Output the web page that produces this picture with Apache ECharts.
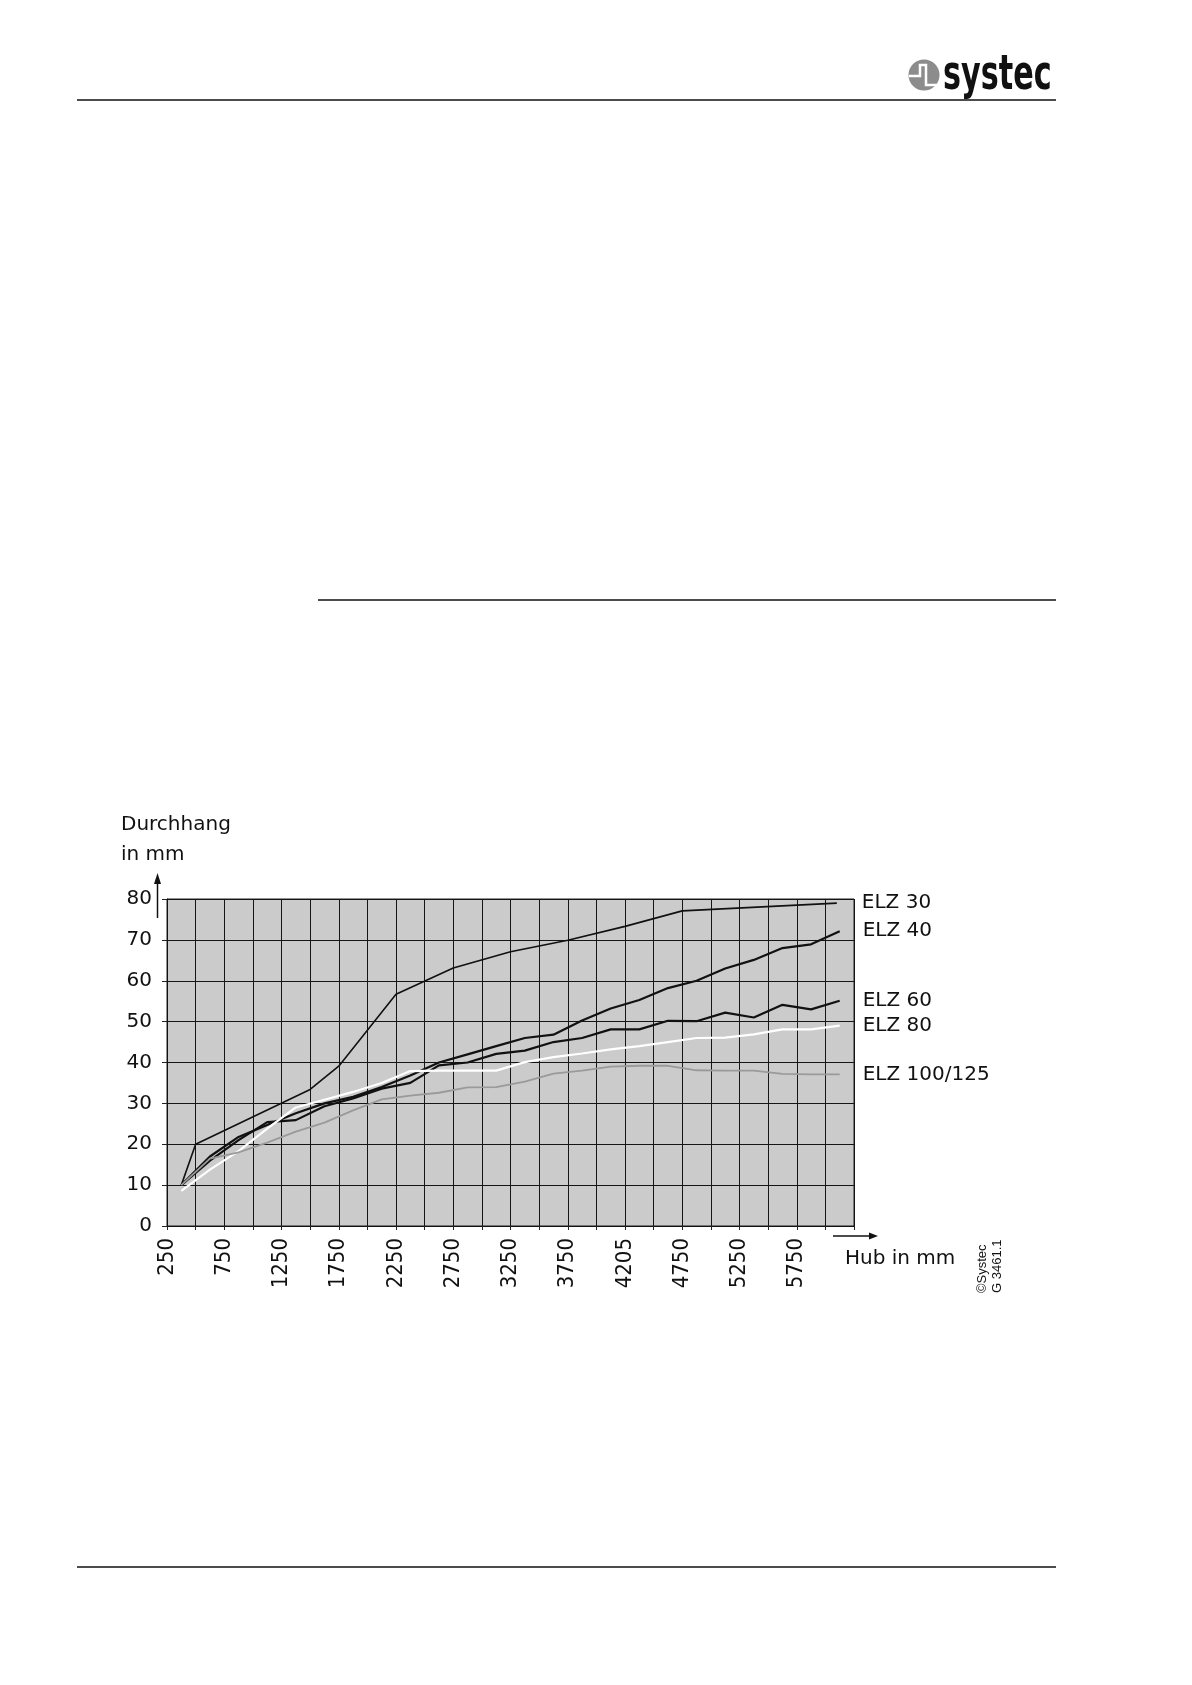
<!DOCTYPE html>
<html>
<head>
<meta charset="utf-8">
<title>Durchhang ELZ</title>
<script src="https://cdn.jsdelivr.net/npm/echarts@6/dist/echarts.min.js"></script>
<style>
  html, body { margin: 0; padding: 0; background: #fff; }
  #chart { width: 1192px; height: 1685px; }
</style>
</head>
<body>
<div id="chart"></div>
<script>
// Hub positions (mm) of the measured points for ELZ 40 ... ELZ 100/125
const hubValues = [375, 625, 875, 1125, 1375, 1625, 1875, 2125, 2375, 2625, 2875, 3125,
                   3375, 3625, 3875, 4125, 4375, 4625, 4875, 5125, 5375, 5625, 5875, 6125];

// ELZ 30 has its own set of hub positions
const elz30Hub = [375, 500, 1500, 1750, 2250, 2750, 3250, 3750, 4250, 4750, 6100];
const elz30 = [10, 20, 33.4, 39.1, 56.7, 63.1, 67.1, 69.9, 73.3, 77.1, 79.0];

// Durchhang (mm)
const elz40 = [10, 17.0, 21.8, 24.7, 27.6, 30.0, 31.6, 34.0, 36.8, 40.0, 42.0, 44.0,
               46.0, 46.8, 50.3, 53.2, 55.3, 58.2, 60.0, 63.0, 65.1, 68.0, 68.9, 72.1];
const elz60 = [10, 16.0, 21.0, 25.4, 25.9, 29.3, 31.2, 33.6, 35.0, 39.3, 40.0, 42.1,
               42.9, 45.0, 46.0, 48.1, 48.1, 50.2, 50.1, 52.2, 51.0, 54.1, 53.0, 55.1];
const elz80 = [8.6, 13.8, 18.3, 23.8, 29.0, 30.9, 32.8, 35.0, 37.9, 38.0, 38.0, 38.0,
               40.1, 41.3, 42.2, 43.2, 44.0, 45.0, 46.0, 46.1, 46.9, 48.1, 48.1, 49.0];
const elz100 = [10, 16.5, 18.0, 20.4, 23.1, 25.3, 28.3, 31.0, 31.9, 32.6, 33.9, 34.0,
                35.3, 37.3, 38.0, 39.0, 39.2, 39.2, 38.1, 38.0, 38.0, 37.2, 37.1, 37.1];

// Labelled ticks of the Hub axis (as printed)
const xTickValues = [250, 750, 1250, 1750, 2250, 2750, 3250, 3750, 4250, 4750, 5250, 5750];
const xTickLabels = ['250', '750', '1250', '1750', '2250', '2750', '3250', '3750', '4205', '4750', '5250', '5750'];

const seriesNames = ['ELZ 30', 'ELZ 40', 'ELZ 60', 'ELZ 80', 'ELZ 100/125'];

const FONT = "'DejaVu Sans', 'Noto Sans', sans-serif";
const FONT_COND = "'DejaVu Sans Condensed', 'DejaVu Sans', sans-serif";

function pairs(xs, ys) {
  return ys.map((v, i) => [xs[i], v]);
}

function lineSeries(name, xs, ys, color, width, labelDist) {
  return {
    name: name,
    type: 'line',
    data: pairs(xs, ys),
    showSymbol: false,
    symbol: 'none',
    clip: false,
    lineStyle: { color: color, width: width },
    itemStyle: { color: color },
    emphasis: { disabled: true },
    endLabel: {
      show: true,
      formatter: (p) => p.seriesName,
      distance: labelDist,
      fontFamily: FONT,
      fontSize: 20,
      color: '#111'
    }
  };
}

const chart = echarts.init(document.getElementById('chart'), null, { renderer: 'canvas' });

const cx = 924, cy = 75;

chart.setOption({
  animation: false,
  backgroundColor: '#ffffff',
  grid: {
    left: 167, top: 899, width: 687, height: 327,
    show: true, backgroundColor: '#cbcbcb', borderColor: '#222', borderWidth: 1
  },
  xAxis: {
    type: 'value',
    min: 250, max: 6250, interval: 250,
    axisLine: { show: true, onZero: false, lineStyle: { color: '#111', width: 1 } },
    axisTick: { show: true, length: 4, lineStyle: { color: '#222' } },
    splitLine: { show: true, lineStyle: { color: '#151515', width: 1 } },
    axisLabel: {
      rotate: 90, margin: 12,
      fontFamily: FONT_COND, fontSize: 22, color: '#111',
      showMinLabel: true, showMaxLabel: true,
      formatter: (v) => {
        const k = xTickValues.indexOf(v);
        return k >= 0 ? xTickLabels[k] : '';
      }
    }
  },
  yAxis: {
    type: 'value',
    min: 0, max: 80, interval: 10,
    axisLine: { show: true, lineStyle: { color: '#111', width: 1 } },
    axisTick: { show: true, length: 5, lineStyle: { color: '#222' } },
    splitLine: { show: true, lineStyle: { color: '#151515', width: 1 } },
    axisLabel: { margin: 15, fontFamily: FONT, fontSize: 20, color: '#111' }
  },
  series: [
    lineSeries(seriesNames[0], elz30Hub, elz30, '#111', 1.6, 25),
    lineSeries(seriesNames[1], hubValues, elz40, '#111', 2.2, 23),
    lineSeries(seriesNames[2], hubValues, elz60, '#111', 2.2, 23),
    lineSeries(seriesNames[3], hubValues, elz80, '#ffffff', 2.2, 23),
    lineSeries(seriesNames[4], hubValues, elz100, '#9a9a9a', 1.8, 23)
  ],
  graphic: [
    // page rules
    { type: 'line', shape: { x1: 77, y1: 100, x2: 1056, y2: 100 }, style: { stroke: '#111', lineWidth: 1.5 } },
    { type: 'line', shape: { x1: 318, y1: 600, x2: 1056, y2: 600 }, style: { stroke: '#111', lineWidth: 1.5 } },
    { type: 'line', shape: { x1: 77, y1: 1567, x2: 1056, y2: 1567 }, style: { stroke: '#111', lineWidth: 1.5 } },
    // logo
    { type: 'circle', shape: { cx: cx, cy: cy, r: 15.5 }, style: { fill: '#8c8c8c' } },
    {
      type: 'polyline',
      shape: { points: [[cx - 15, cy + 1], [cx - 4, cy + 1], [cx - 4, cy - 10], [cx + 2, cy - 10], [cx + 2, cy + 10], [cx + 15, cy + 10]] },
      style: { stroke: '#ffffff', lineWidth: 2.5, fill: null }
    },
    {
      type: 'text', x: 943, y: 77, scaleX: 0.7,
      style: {
        text: 'systec', fill: '#111',
        font: "bold 48px 'Liberation Sans Narrow', 'DejaVu Sans Condensed', sans-serif",
        align: 'left', verticalAlign: 'middle'
      }
    },
    // y-axis caption and arrow
    {
      type: 'text', x: 121, y: 825,
      style: { text: 'Durchhang', fill: '#111', font: "20px " + FONT, align: 'left', verticalAlign: 'middle' }
    },
    {
      type: 'text', x: 121, y: 855,
      style: { text: 'in mm', fill: '#111', font: "20px " + FONT, align: 'left', verticalAlign: 'middle' }
    },
    { type: 'line', shape: { x1: 157.5, y1: 882, x2: 157.5, y2: 918 }, style: { stroke: '#111', lineWidth: 1.5 } },
    { type: 'polygon', shape: { points: [[157.5, 873], [154, 884], [161, 884]] }, style: { fill: '#111' } },
    // x-axis caption and arrow
    { type: 'line', shape: { x1: 833, y1: 1236, x2: 871, y2: 1236 }, style: { stroke: '#111', lineWidth: 1.5 } },
    { type: 'polygon', shape: { points: [[878, 1236], [869, 1232.5], [869, 1239.5]] }, style: { fill: '#111' } },
    {
      type: 'text', x: 845, y: 1259,
      style: { text: 'Hub in mm', fill: '#111', font: "20px " + FONT, align: 'left', verticalAlign: 'middle' }
    },
    // copyright mark
    {
      type: 'text', x: 990, y: 1293, rotation: Math.PI / 2,
      style: {
        text: '©Systec\nG 3461.1', fill: '#111', lineHeight: 15,
        font: "13px 'Liberation Sans', Arial, sans-serif",
        align: 'left', verticalAlign: 'middle'
      }
    }
  ]
});
</script>
</body>
</html>
